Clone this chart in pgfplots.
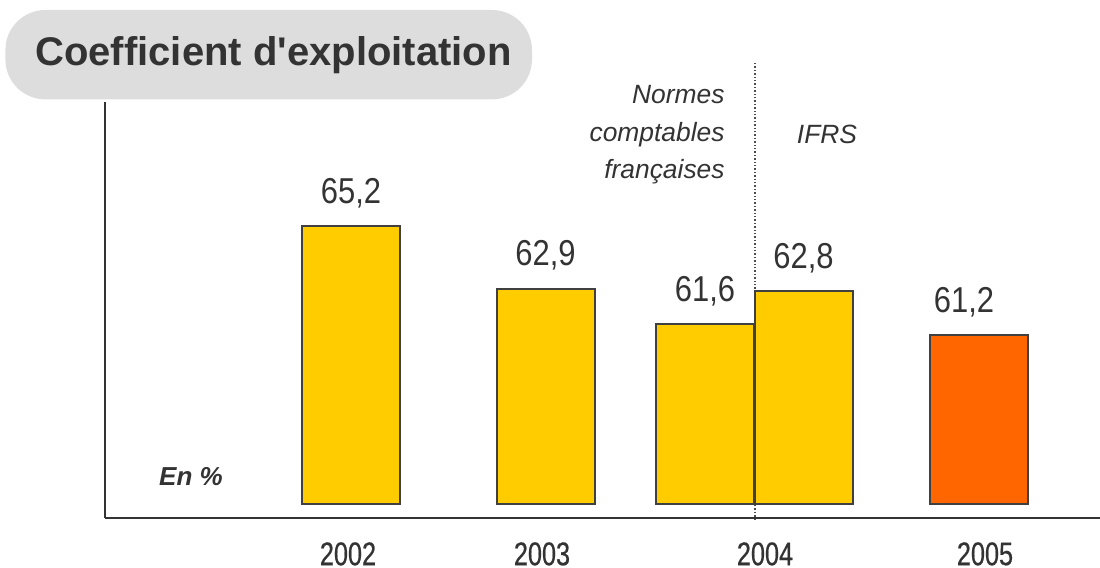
\documentclass[border=0pt]{standalone}
\usepackage{pgfplots}
\pgfplotsset{compat=1.18}
\usepackage{pgfplotstable}
\usepackage{fontspec}
\setmainfont{Liberation Sans}
\newfontfamily\titlefont{Liberation Sans}
\newfontfamily\condfont[FakeStretch=0.86]{Liberation Sans}
\newfontfamily\tickfont[FakeStretch=0.77, FakeBold=0.6]{Liberation Sans}
\definecolor{txt}{HTML}{333333}
\definecolor{barY}{HTML}{FFCC00}
\definecolor{barO}{HTML}{FF6600}
\definecolor{edge}{HTML}{404040}
\definecolor{boxgray}{HTML}{DDDDDD}

\pgfplotstableread{
x v lab
3.51 65.2 65,2
5.455 62.9 62,9
7.05 61.6 61,6
8.035 62.8 62,8
}\ydata
\pgfplotstableread{
x v lab
9.79 61.2 61,2
}\odata

\begin{document}
\begin{tikzpicture}
\path[use as bounding box] (-52.5pt,-25pt) rectangle (497.5pt,259pt);
\fill[boxgray, rounded corners=20pt] (-49.8pt,209.3pt) rectangle (213.5pt,254pt);
\node[text=txt, font=\titlefont\fontsize{20}{24}\selectfont\bfseries] at (84.25pt,231.6pt) {Coefficient d'exploitation};
\begin{axis}[
  at={(0pt,0pt)}, anchor=south west,
  scale only axis, width=497.5pt, height=208pt,
  xmin=1.05, xmax=11.0, ymin=-0.514, ymax=14.752,
  axis x line*=bottom, axis y line*=left,
  axis line style={draw=txt, line width=1pt, -},
  ytick=\empty, xtick={3.48,5.42,7.65,9.85},
  xticklabels={2002,2003,2004,2005},
  major tick length=0pt,
  xticklabel style={font=\tickfont\fontsize{16.4}{18}\selectfont, text=txt, anchor=base, inner sep=0pt, yshift=-23.6pt},
  clip=false,
  ybar, bar width=0.98, bar shift=0pt,
  nodes near coords, point meta=explicit symbolic,
  every node near coord/.append style={font=\condfont\fontsize{18}{20}\selectfont, text=txt, anchor=base, yshift=11.5pt},
]
\draw[densely dotted, black!70, line width=0.7pt] (axis cs:7.55,-0.587) -- (axis cs:7.55,16.22);
\addplot[fill=barY, draw=edge, line width=1pt] table[x=x, y expr=\thisrow{v}-55, meta=lab] {\ydata};
\addplot[fill=barO, draw=edge, line width=1pt, every node near coord/.append style={xshift=-7.5pt}] table[x=x, y expr=\thisrow{v}-55, meta=lab] {\odata};
\node[anchor=east, align=right, inner sep=0pt, font=\itshape\fontsize{13.2}{18.75}\selectfont, text=txt] at (axis cs:7.25,13.55) {Normes\\comptables\\françaises};
\node[font=\itshape\fontsize{13.2}{16}\selectfont, text=txt] at (axis cs:8.27,13.55) {IFRS};
\node[font=\bfseries\itshape\fontsize{13}{16}\selectfont, text=txt] at (axis cs:1.91,0.99) {En \%};
\end{axis}
\end{tikzpicture}
\end{document}
